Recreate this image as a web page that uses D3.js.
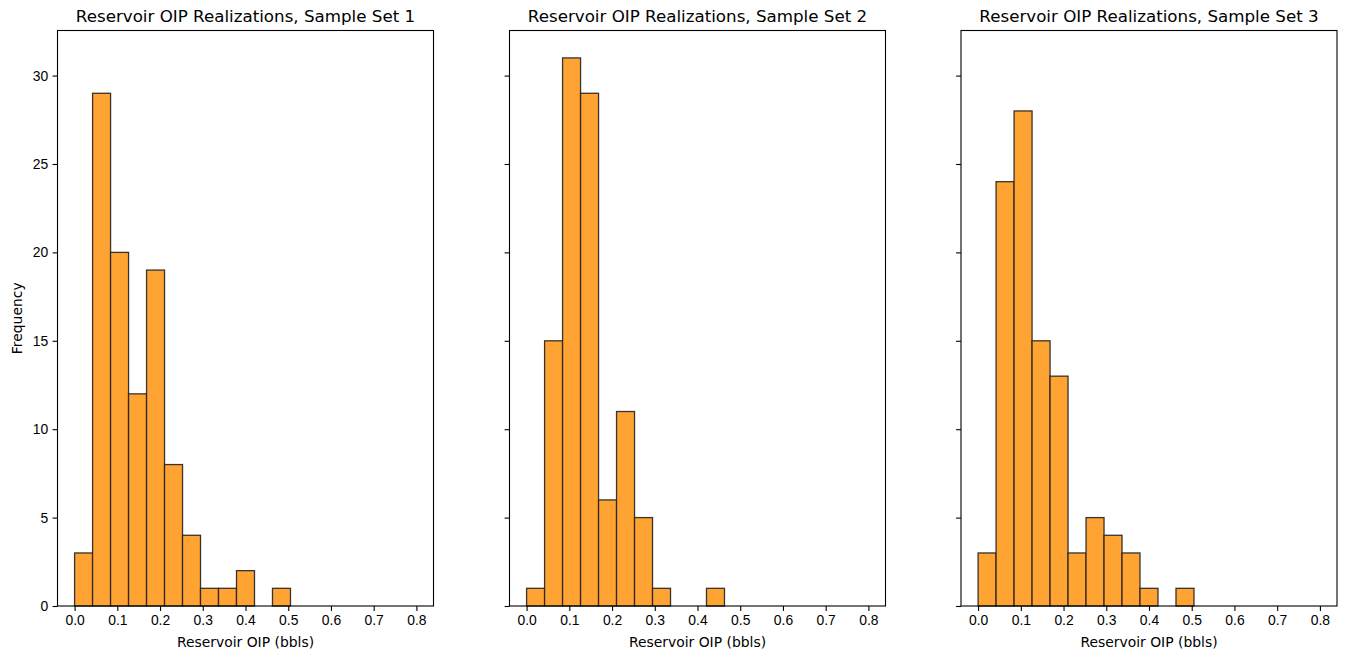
<!DOCTYPE html>
<html>
<head>
<meta charset="utf-8">
<script src="https://cdn.jsdelivr.net/npm/d3@7"></script>
<style>
  body { margin: 0; background: #fff; }
  svg { display: block; font-family: "DejaVu Sans", sans-serif; }
</style>
</head>
<body>
<svg width="1347" height="659"></svg>
<script>
// 19 equal bins from 0 to 0.8
const binEdges = d3.range(20).map(i => i * 0.8 / 19);
const set1Counts = [3, 29, 20, 12, 19, 8, 4, 1, 1, 2, 0, 1, 0, 0, 0, 0, 0, 0, 0];
const set2Counts = [1, 15, 31, 29, 6, 11, 5, 1, 0, 0, 1, 0, 0, 0, 0, 0, 0, 0, 0];
const set3Counts = [3, 24, 28, 15, 13, 3, 5, 4, 3, 1, 0, 1, 0, 0, 0, 0, 0, 0, 0];
const titles = [
  "Reservoir OIP Realizations, Sample Set 1",
  "Reservoir OIP Realizations, Sample Set 2",
  "Reservoir OIP Realizations, Sample Set 3"
];
const xTicks = [0, 0.1, 0.2, 0.3, 0.4, 0.5, 0.6, 0.7, 0.8];
const yTicks = [0, 5, 10, 15, 20, 25, 30];

const svg = d3.select("svg");
const panels = [
  { left: 57.5, right: 433.5, counts: set1Counts, title: titles[0] },
  { left: 509.5, right: 885.5, counts: set2Counts, title: titles[1] },
  { left: 961, right: 1337, counts: set3Counts, title: titles[2] }
];
const plotTop = 30.5, plotBottom = 606;
const tickFont = "13.9px";

const y = d3.scaleLinear().domain([0, 32.55]).range([plotBottom, plotTop]);

panels.forEach((p, pi) => {
  const x = d3.scaleLinear().domain([-0.04, 0.84]).range([p.left, p.right]);
  const g = svg.append("g");

  const bins = p.counts.map((c, i) => ({ x0: binEdges[i], x1: binEdges[i + 1], n: c }));

  g.selectAll("rect.bar")
    .data(bins)
    .enter()
    .append("rect")
    .attr("class", "bar")
    .attr("x", d => x(d.x0))
    .attr("y", d => y(d.n))
    .attr("width", d => x(d.x1) - x(d.x0))
    .attr("height", d => y(0) - y(d.n))
    .attr("fill", "#ffa333")
    .attr("stroke", "#222")
    .attr("stroke-opacity", 0.9)
    .attr("stroke-width", 1.3);

  // x axis
  const xAxis = g.append("g")
    .attr("transform", `translate(0,${plotBottom})`)
    .call(d3.axisBottom(x).tickValues(xTicks).tickFormat(d3.format(".1f")).tickSizeOuter(0).tickSize(4.9).tickPadding(4.5));
  xAxis.select(".domain").remove();
  xAxis.selectAll("text").style("font-size", tickFont).attr("fill", "#000");
  xAxis.selectAll("line").attr("stroke", "#000").attr("stroke-width", 1.1);

  // y axis
  const yAxis = g.append("g")
    .attr("transform", `translate(${p.left},0)`)
    .call(d3.axisLeft(y).tickValues(yTicks).tickSizeOuter(0).tickSize(4.9).tickPadding(4.5)
      .tickFormat(pi === 0 ? d3.format("d") : () => ""));
  yAxis.select(".domain").remove();
  yAxis.selectAll("text").style("font-size", tickFont).attr("fill", "#000");
  yAxis.selectAll("line").attr("stroke", "#000").attr("stroke-width", 1.1);

  // frame
  g.append("rect")
    .attr("x", p.left)
    .attr("y", plotTop)
    .attr("width", p.right - p.left)
    .attr("height", plotBottom - plotTop)
    .attr("fill", "none")
    .attr("stroke", "#000")
    .attr("stroke-width", 1.1);

  // title
  g.append("text")
    .attr("x", (p.left + p.right) / 2)
    .attr("y", 22)
    .attr("text-anchor", "middle")
    .style("font-size", "16.7px")
    .text(p.title);

  // x label
  g.append("text")
    .attr("x", (p.left + p.right) / 2)
    .attr("y", 647)
    .attr("text-anchor", "middle")
    .style("font-size", tickFont)
    .text("Reservoir OIP (bbls)");

  if (pi === 0) {
    svg.append("text")
      .attr("transform", `translate(22,${(plotTop + plotBottom) / 2}) rotate(-90)`)
      .attr("text-anchor", "middle")
      .style("font-size", tickFont)
      .text("Frequency");
  }
});
</script>
</body>
</html>
